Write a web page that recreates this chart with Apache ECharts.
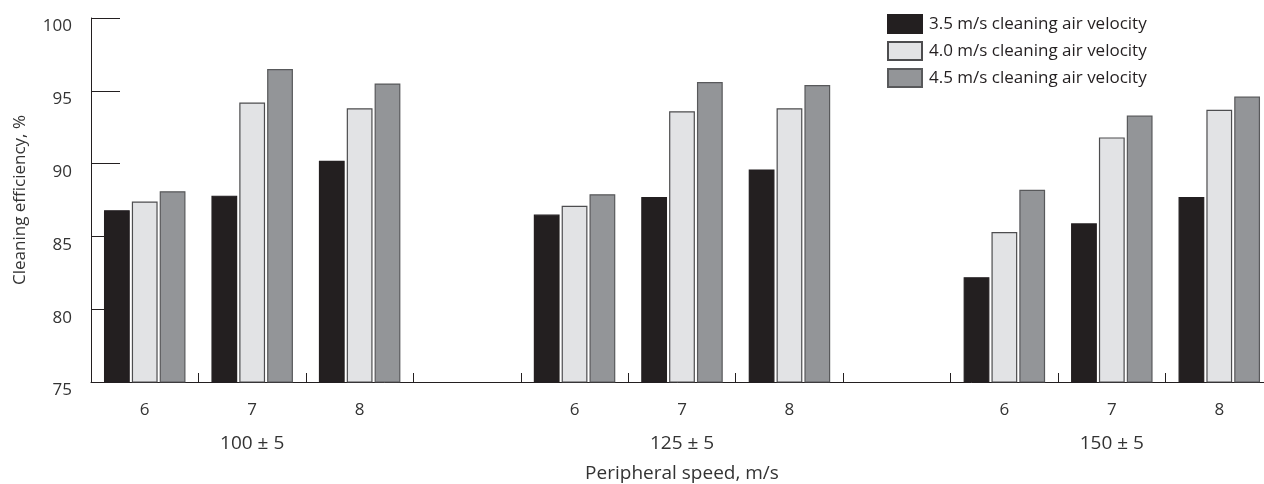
<!DOCTYPE html>
<html>
<head>
<meta charset="utf-8">
<script src="https://cdn.jsdelivr.net/npm/echarts@6/dist/echarts.min.js"></script>
<style>
  html, body { margin: 0; padding: 0; background: #fff; }
  #chart { width: 1264px; height: 484px; }
</style>
</head>
<body>
<div id="chart"></div>
<script>
// 三组滚筒直径下的清选效率
const speeds = ['6', '7', '8'];
const groups = ['100 \u00b1 5', '125 \u00b1 5', '150 \u00b1 5'];
const seriesNames = [
  '3.5 m/s cleaning air velocity',
  '4.0 m/s cleaning air velocity',
  '4.5 m/s cleaning air velocity',
];
const eff35 = [86.8, 87.8, 90.2, 86.5, 87.7, 89.6, 82.2, 85.9, 87.7];
const eff40 = [87.4, 94.2, 93.8, 87.1, 93.6, 93.8, 85.3, 91.8, 93.7];
const eff45 = [88.1, 96.5, 95.5, 87.9, 95.6, 95.4, 88.2, 93.3, 94.6];
const yTicks = { min: 75, max: 100, step: 5 };

const font = "'Open Sans', 'Noto Sans', sans-serif";
const fills = ['#231f20', '#e2e3e5', '#939598'];
const borders = ['#231f20', '#4d4d4f', '#58595b'];

// 组间留一个空类目，类目名唯一，显示时再取速度/组名
const cats = [];
const speedOf = {};
const groupOf = {};
groups.forEach((g, gi) => {
  speeds.forEach((s, si) => {
    const key = 'g' + gi + 's' + si;
    cats.push(key);
    speedOf[key] = s;
    groupOf[key] = si === 1 ? g : '';
  });
  if (gi < groups.length - 1) cats.push('gap' + gi);
});
const withGaps = arr => {
  const out = [];
  groups.forEach((g, gi) => {
    out.push(...arr.slice(gi * speeds.length, (gi + 1) * speeds.length));
    if (gi < groups.length - 1) out.push(null);
  });
  return out;
};

const chart = echarts.init(document.getElementById('chart'));
chart.setOption({
  animation: false,
  textStyle: { fontFamily: font },
  grid: {
    left: 91, right: -9, top: 18, bottom: 102,
    containLabel: false,
    outerBoundsMode: 'none',
  },
  legend: {
    orient: 'vertical',
    left: 882,
    top: 9,
    itemWidth: 34,
    itemHeight: 18,
    itemGap: 7,
    icon: 'rect',
    textStyle: { fontFamily: font, fontSize: 17, color: '#231f20', padding: [0, 0, 0, 2] },
    data: seriesNames,
  },
  xAxis: [
    {
      type: 'category',
      data: cats,
      position: 'bottom',
      name: 'Peripheral speed, m/s',
      nameLocation: 'middle',
      nameGap: 82,
      nameTextStyle: { fontFamily: font, fontSize: 19, color: '#333' },
      axisLine: { lineStyle: { color: '#231f20', width: 1 } },
      axisTick: { show: true, interval: 0, inside: true, length: 9, lineStyle: { color: '#231f20' } },
      axisLabel: {
        interval: 0, fontSize: 17, color: '#333', margin: 20,
        formatter: v => speedOf[v] || '',
      },
      splitLine: { show: false },
    },
    {
      type: 'category',
      data: cats,
      position: 'bottom',
      offset: 32,
      axisLine: { show: false },
      axisTick: { show: false },
      axisLabel: {
        interval: 0, fontSize: 19, color: '#333', margin: 20,
        formatter: v => groupOf[v] || '',
      },
      splitLine: { show: false },
    },
  ],
  yAxis: {
    type: 'value',
    min: yTicks.min,
    max: yTicks.max,
    interval: yTicks.step,
    name: 'Cleaning efficiency, %',
    nameLocation: 'middle',
    nameGap: 62,
    nameTextStyle: { fontFamily: font, fontSize: 17, color: '#333' },
    axisLine: { show: true, lineStyle: { color: '#231f20', width: 1 } },
    axisTick: { show: true, inside: true, length: 29, lineStyle: { color: '#231f20' } },
    axisLabel: { fontSize: 17, color: '#333', margin: 19, verticalAlign: 'top' },
    splitLine: { show: false },
  },
  series: [eff35, eff40, eff45].map((vals, i) => ({
    name: seriesNames[i],
    type: 'bar',
    xAxisIndex: 0,
    data: withGaps(vals),
    barWidth: '24%',
    barGap: '8%',
    itemStyle: { color: fills[i], borderColor: borders[i], borderWidth: 1.2 },
  })),
});
</script>
</body>
</html>
